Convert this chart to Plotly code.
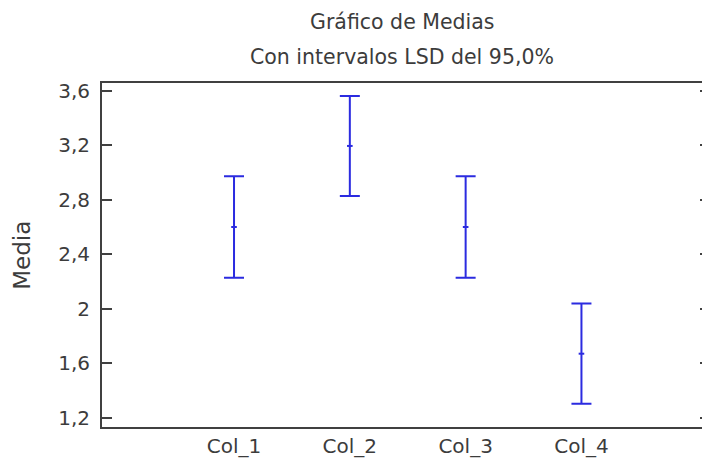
import plotly.graph_objects as go

categories = ["Col_1", "Col_2", "Col_3", "Col_4"]
means = [2.60, 3.195, 2.60, 1.67]
lsd_half = [0.372, 0.367, 0.372, 0.368]
y_tickvals = [1.2, 1.6, 2.0, 2.4, 2.8, 3.2, 3.6]
y_ticktext = ["1,2", "1,6", "2", "2,4", "2,8", "3,2", "3,6"]

blue = "#2b2be0"
txt = "#3c3c3c"
font = "DejaVu Sans"

fig = go.Figure()
fig.add_trace(go.Scatter(
    x=categories, y=means, mode="markers",
    marker=dict(symbol="line-ew-open", size=4, color=blue, line=dict(color=blue, width=2)),
    error_y=dict(type="data", array=lsd_half, visible=True, color=blue, thickness=2, width=10),
    showlegend=False, hoverinfo="x+y",
))

fig.update_layout(
    width=702, height=450,
    margin=dict(l=94, r=0, t=75, b=31, autoexpand=False),
    paper_bgcolor="white", plot_bgcolor="white",
    separators=",.",
    font=dict(family=font, color=txt),
    xaxis=dict(
        type="category", range=[-1.14, 4.11],
        showline=True, mirror=True, linecolor="#404040", linewidth=2,
        ticks="", showgrid=False, zeroline=False,
        tickfont=dict(size=20, color=txt, family=font),
        automargin=False,
    ),
    yaxis=dict(
        range=[1.132, 3.657],
        tickvals=y_tickvals, ticktext=y_ticktext,
        showline=True, mirror="ticks", linecolor="#404040", linewidth=2,
        ticks="inside", ticklen=10, tickwidth=2, tickcolor="#404040",
        showgrid=False, zeroline=False,
        tickfont=dict(size=20, color=txt, family=font),
        ticklabelstandoff=6, automargin=False,
    ),
    annotations=[
        dict(text="Gráfico de Medias", xref="paper", yref="paper", x=0.494, y=1.177,
             xanchor="center", yanchor="middle", showarrow=False,
             font=dict(size=20.5, color=txt, family=font)),
        dict(text="Con intervalos LSD del 95,0%", xref="paper", yref="paper", x=0.494, y=1.0756,
             xanchor="center", yanchor="middle", showarrow=False,
             font=dict(size=20.5, color=txt, family=font)),
        dict(text="Media", xref="paper", yref="paper", x=-0.132, y=0.5,
             xanchor="center", yanchor="middle", showarrow=False, textangle=-90,
             font=dict(size=23, color=txt, family=font)),
    ],
)

fig.write_html("out.html")
